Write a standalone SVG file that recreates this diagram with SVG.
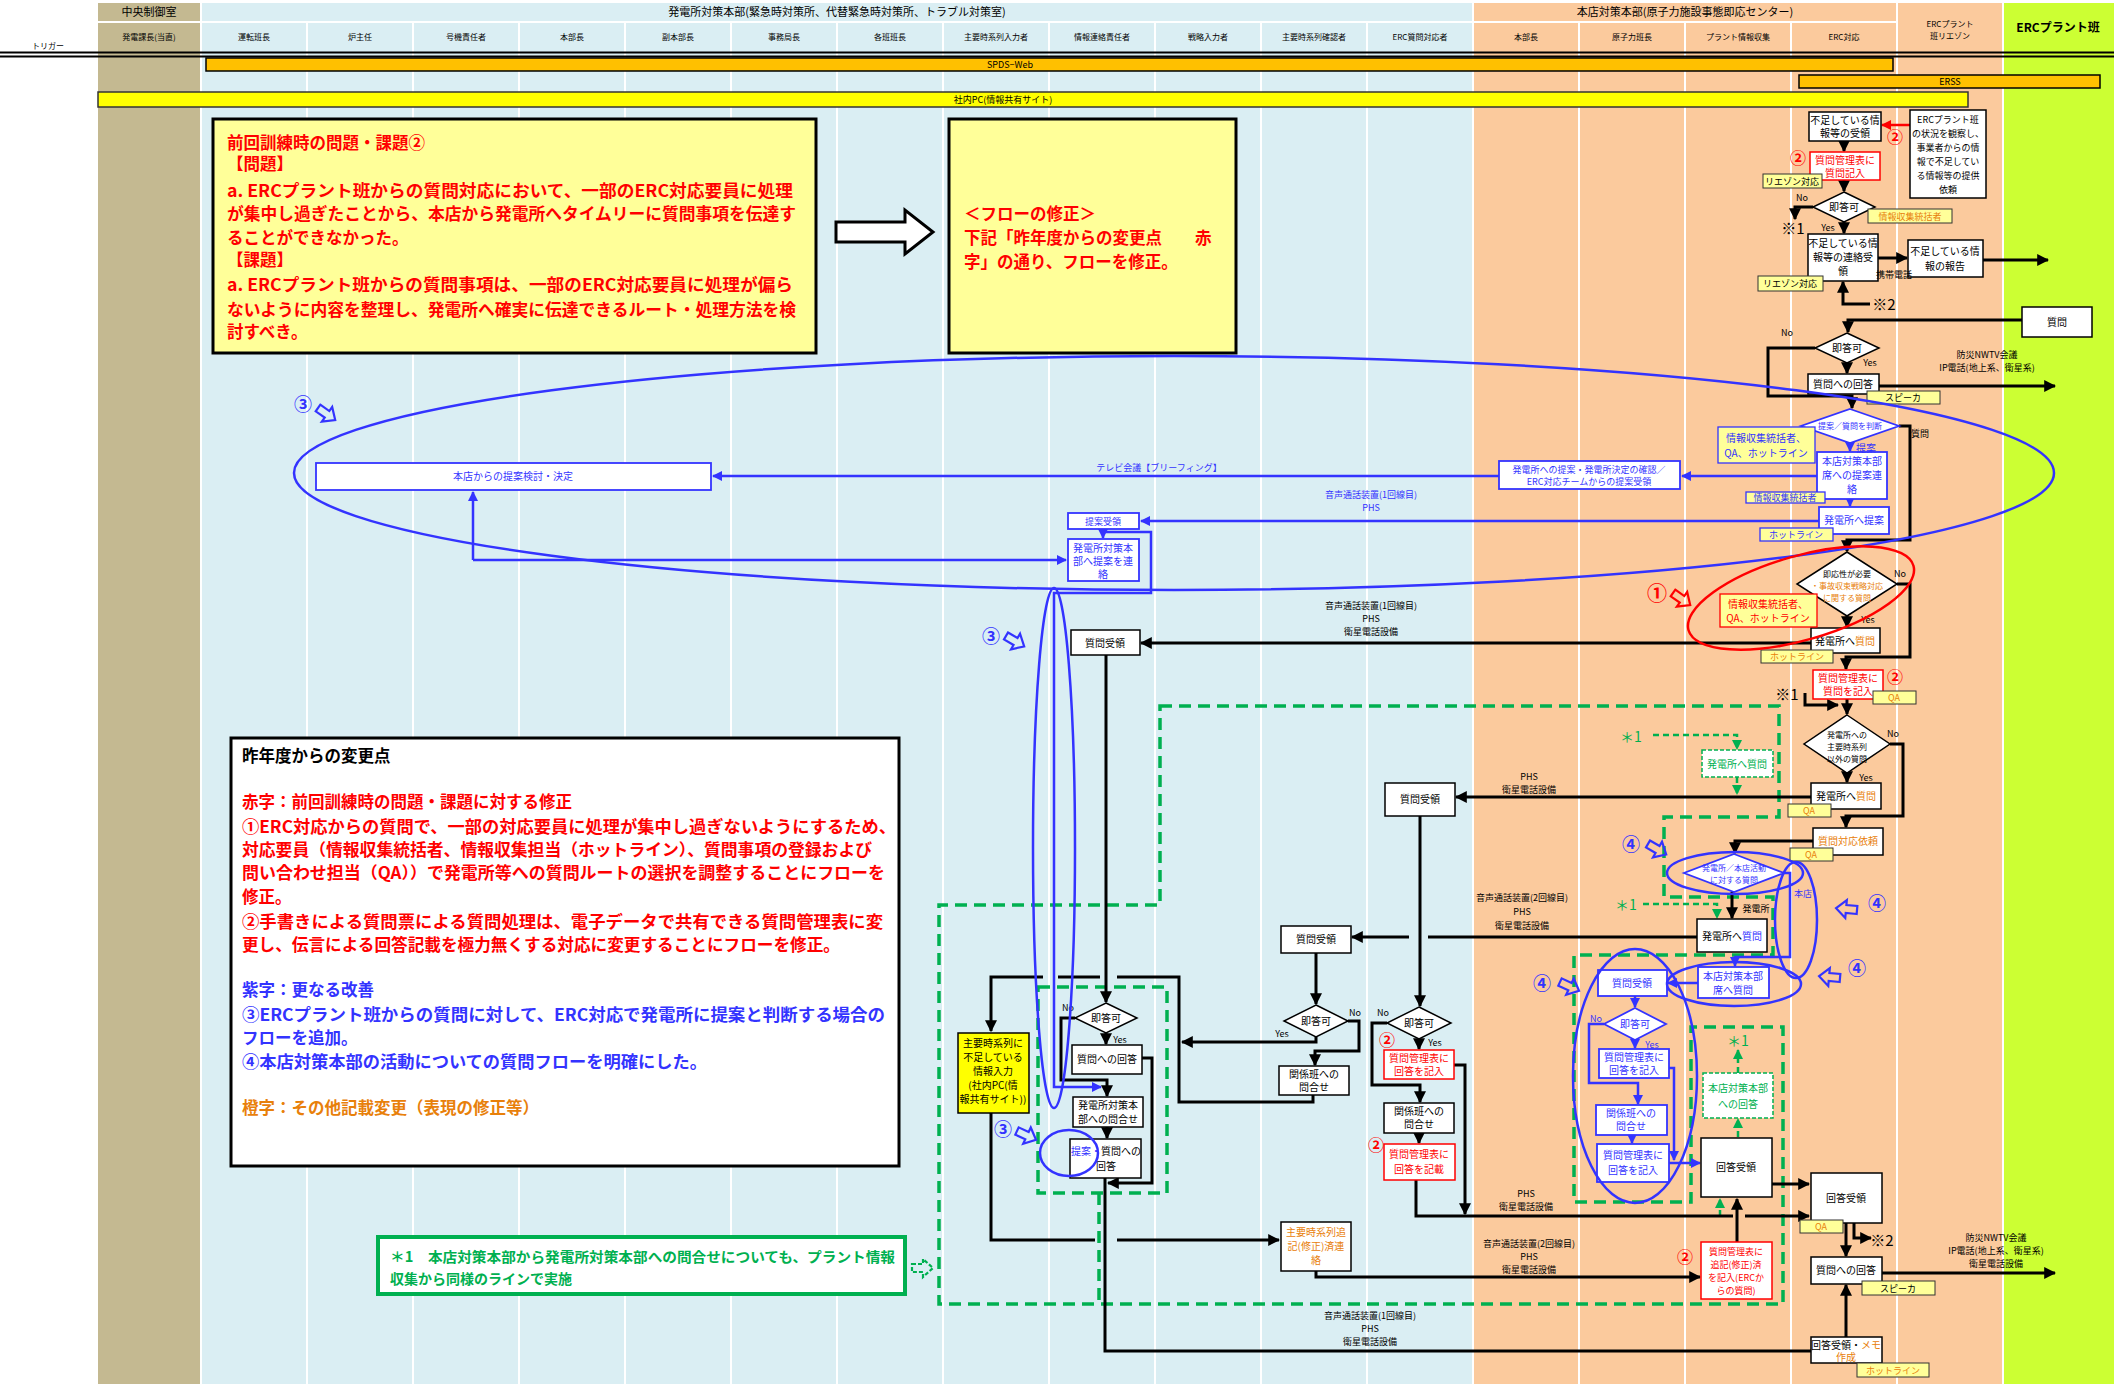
<svg xmlns="http://www.w3.org/2000/svg" width="2125" height="1384" viewBox="0 0 2125 1384">
<defs>
<style>
.t{font-family:"Noto Sans CJK JP","Noto Sans",sans-serif;font-size:10px;text-anchor:middle;fill:#000}
.s8{font-size:8px}.s9{font-size:9px}.s11{font-size:11px}
.lt{text-anchor:start}
.bd{font-weight:bold}
.b{fill:#3333ff}.r{fill:#ff0000}.o{fill:#e8800a}.g{fill:#00b050}
.n{fill:#fff;stroke:#000;stroke-width:1.5}
.nb{fill:#fff;stroke:#3333ff;stroke-width:1.8}
.nr{fill:#fff;stroke:#ff0000;stroke-width:1.5}
.ng{fill:#fff;stroke:#00b050;stroke-width:1.5;stroke-dasharray:4 2}
.lab{fill:#ffff99;stroke:#333;stroke-width:1}
.labb{fill:#ffff99;stroke:#3333ff;stroke-width:1.3}
.labr{fill:#ffff99;stroke:#ff0000;stroke-width:1.3}
.c{fill:none;stroke:#000;stroke-width:3;marker-end:url(#a)}
.c0{fill:none;stroke:#000;stroke-width:3}
.cb{fill:none;stroke:#3333ff;stroke-width:2.5;marker-end:url(#ab)}
.cb0{fill:none;stroke:#3333ff;stroke-width:2.5}
.cr{fill:none;stroke:#ff0000;stroke-width:2.5;marker-end:url(#ar)}
.cg{fill:none;stroke:#00b050;stroke-width:2.5;stroke-dasharray:6 4;marker-end:url(#ag)}
.gd{fill:none;stroke:#00b050;stroke-width:3.5;stroke-dasharray:12 7}
.el{fill:none;stroke:#3333ff;stroke-width:2.5}
.wl{stroke:#fff;stroke-width:2}
.num{font-family:"Noto Sans CJK JP",sans-serif;font-size:18px;font-weight:bold;text-anchor:middle}
.big{font-family:"Noto Sans CJK JP",sans-serif;font-size:16.5px;font-weight:bold}
</style>
<marker id="a" viewBox="0 0 10 10" refX="9" refY="5" markerWidth="4" markerHeight="4" orient="auto"><path d="M0,0L10,5L0,10z" fill="#000"/></marker>
<marker id="ab" viewBox="0 0 10 10" refX="9" refY="5" markerWidth="4" markerHeight="4" orient="auto"><path d="M0,0L10,5L0,10z" fill="#3333ff"/></marker>
<marker id="ar" viewBox="0 0 10 10" refX="9" refY="5" markerWidth="4" markerHeight="4" orient="auto"><path d="M0,0L10,5L0,10z" fill="#ff0000"/></marker>
<marker id="ag" viewBox="0 0 10 10" refX="9" refY="5" markerWidth="4" markerHeight="4" orient="auto"><path d="M0,0L10,5L0,10z" fill="#00b050"/></marker>
<path id="ha" d="M0,-4H11V-9L21,0L11,9V4H0Z" stroke-width="2.2"/>
</defs>

<g id="background">
<rect x="0" y="0" width="2125" height="1384" fill="#fff"/>
<rect x="98" y="3" width="103" height="1381" fill="#c4b991"/>
<rect x="201" y="3" width="1272" height="1381" fill="#daeef3"/>
<rect x="1473" y="3" width="530" height="1381" fill="#fbca9d"/>
<rect x="2003" y="3" width="111" height="1381" fill="#ccff33"/>
<line class="wl" x1="98" y1="22" x2="1897" y2="22"/>
<g class="wl">
<line x1="201" y1="3" x2="201" y2="1384"/><line x1="307" y1="22" x2="307" y2="1384"/><line x1="413" y1="22" x2="413" y2="1384"/><line x1="519" y1="22" x2="519" y2="1384"/><line x1="625" y1="22" x2="625" y2="1384"/><line x1="731" y1="22" x2="731" y2="1384"/><line x1="837" y1="22" x2="837" y2="1384"/><line x1="943" y1="22" x2="943" y2="1384"/><line x1="1049" y1="22" x2="1049" y2="1384"/><line x1="1155" y1="22" x2="1155" y2="1384"/><line x1="1261" y1="22" x2="1261" y2="1384"/><line x1="1367" y1="22" x2="1367" y2="1384"/><line x1="1473" y1="3" x2="1473" y2="1384"/><line x1="1579" y1="22" x2="1579" y2="1384"/><line x1="1685" y1="22" x2="1685" y2="1384"/><line x1="1791" y1="22" x2="1791" y2="1384"/><line x1="1897" y1="3" x2="1897" y2="1384"/><line x1="2003" y1="3" x2="2003" y2="1384"/>
</g>
</g>

<g id="header">
<text class="t s11" x="149" y="16">中央制御室</text>
<text class="t s11" x="837" y="16">発電所対策本部(緊急時対策所、代替緊急時対策所、トラブル対策室)</text>
<text class="t s11" x="1685" y="16">本店対策本部(原子力施設事態即応センター)</text>
<text class="t s8" x="1950" y="27">ERCプラント</text>
<text class="t s8" x="1950" y="39">班リエゾン</text>
<text class="t bd" x="2058" y="32" style="font-size:12px">ERCプラント班</text>
<text class="t s8" x="149" y="40">発電課長(当直)</text>
<g class="t s8">
<text x="254" y="40">運転班長</text><text x="360" y="40">炉主任</text><text x="466" y="40">号機責任者</text><text x="572" y="40">本部長</text><text x="678" y="40">副本部長</text><text x="784" y="40">事務局長</text><text x="890" y="40">各班班長</text><text x="996" y="40">主要時系列入力者</text><text x="1102" y="40">情報連絡責任者</text><text x="1208" y="40">戦略入力者</text><text x="1314" y="40">主要時系列確認者</text><text x="1420" y="40">ERC質問対応者</text><text x="1526" y="40">本部長</text><text x="1632" y="40">原子力班長</text><text x="1738" y="40">プラント情報収集</text><text x="1844" y="40">ERC対応</text>
</g>
<text class="t s8" x="48" y="49">トリガー</text>
<line x1="0" y1="52.5" x2="2114" y2="52.5" stroke="#000" stroke-width="2"/>
<line x1="0" y1="56.5" x2="2114" y2="56.5" stroke="#000" stroke-width="2"/>
</g>

<g id="systems">
<rect x="206" y="58" width="1687" height="13" fill="#ffc000" stroke="#000" stroke-width="1.5"/>
<text class="t s9" x="1010" y="68">SPDS−Web</text>
<rect x="1799" y="75" width="301" height="13" fill="#ffc000" stroke="#000" stroke-width="1.5"/>
<text class="t s9" x="1950" y="85">ERSS</text>
<rect x="98" y="92" width="1870" height="15" fill="#ffff00" stroke="#333" stroke-width="1.5"/>
<text class="t s9" x="1003" y="103">社内PC(情報共有サイト)</text>
</g>

<g id="problem-box">
<rect x="213" y="119" width="603" height="234" fill="#ffff99" stroke="#000" stroke-width="3"/>
<g class="big r">
<text x="227" y="149">前回訓練時の問題・課題②</text>
<text x="227" y="170">【問題】</text>
<text x="227" y="197" textLength="566" lengthAdjust="spacingAndGlyphs">a. ERCプラント班からの質問対応において、一部のERC対応要員に処理</text>
<text x="227" y="220" textLength="569" lengthAdjust="spacingAndGlyphs">が集中し過ぎたことから、本店から発電所へタイムリーに質問事項を伝達す</text>
<text x="227" y="244">ることができなかった。</text>
<text x="227" y="266">【課題】</text>
<text x="227" y="291" textLength="566" lengthAdjust="spacingAndGlyphs">a. ERCプラント班からの質問事項は、一部のERC対応要員に処理が偏ら</text>
<text x="227" y="316" textLength="569" lengthAdjust="spacingAndGlyphs">ないように内容を整理し、発電所へ確実に伝達できるルート・処理方法を検</text>
<text x="227" y="338">討すべき。</text>
</g>
</g>
<path d="M836,222H905V210L933,232L905,254V242H836Z" fill="#fff" stroke="#000" stroke-width="3"/>
<g id="revision-box">
<rect x="949" y="119" width="287" height="234" fill="#ffff99" stroke="#000" stroke-width="3"/>
<g class="big r">
<text x="964" y="220">＜フローの修正＞</text>
<text x="964" y="244">下記「昨年度からの変更点　　赤</text>
<text x="964" y="268">字」の通り、フローを修正。</text>
</g>
</g>

<g id="changes-box">
<rect x="231" y="738" width="668" height="428" fill="#fff" stroke="#000" stroke-width="3"/>
<g class="big">
<text x="242" y="762">昨年度からの変更点</text>
<text class="r" x="242" y="808">赤字：前回訓練時の問題・課題に対する修正</text>
<text class="r" x="242" y="833" textLength="654" lengthAdjust="spacingAndGlyphs">①ERC対応からの質問で、一部の対応要員に処理が集中し過ぎないようにするため、</text>
<text class="r" x="242" y="856" textLength="630" lengthAdjust="spacingAndGlyphs">対応要員（情報収集統括者、情報収集担当（ホットライン）、質問事項の登録および</text>
<text class="r" x="242" y="879" textLength="643" lengthAdjust="spacingAndGlyphs">問い合わせ担当（QA））で発電所等への質問ルートの選択を調整することにフローを</text>
<text class="r" x="242" y="903">修正。</text>
<text class="r" x="242" y="928" textLength="641" lengthAdjust="spacingAndGlyphs">②手書きによる質問票による質問処理は、電子データで共有できる質問管理表に変</text>
<text class="r" x="242" y="951" textLength="598" lengthAdjust="spacingAndGlyphs">更し、伝言による回答記載を極力無くする対応に変更することにフローを修正。</text>
<text class="b" x="242" y="996">紫字：更なる改善</text>
<text class="b" x="242" y="1021" textLength="643" lengthAdjust="spacingAndGlyphs">③ERCプラント班からの質問に対して、ERC対応で発電所に提案と判断する場合の</text>
<text class="b" x="242" y="1044">フローを追加。</text>
<text class="b" x="242" y="1068" textLength="465" lengthAdjust="spacingAndGlyphs">④本店対策本部の活動についての質問フローを明確にした。</text>
<text class="o" x="242" y="1114">橙字：その他記載変更（表現の修正等）</text>
</g>
</g>

<g id="note-box">
<rect x="378" y="1237" width="527" height="57" fill="#fff" stroke="#00b050" stroke-width="4"/>
<text class="g" x="390" y="1262" style="font-family:'Noto Sans CJK JP',sans-serif;font-size:14px;font-weight:bold" textLength="505" lengthAdjust="spacingAndGlyphs">＊1　本店対策本部から発電所対策本部への問合せについても、プラント情報</text>
<text class="g" x="390" y="1284" style="font-family:'Noto Sans CJK JP',sans-serif;font-size:14px;font-weight:bold">収集から同様のラインで実施</text>
<use href="#ha" transform="translate(912,1268)" fill="none" stroke="#00b050" stroke-dasharray="4 2"/>
</g>

<g id="green-dashed">
<path class="gd" d="M1160,706H1779V817H1664V897H1773V955H1574V1202H1691V1027H1783V1304H939V905H1160Z"/>
<rect class="gd" x="1038" y="987" width="129" height="206"/>
<line class="gd" x1="1099" y1="1193" x2="1099" y2="1304"/>
</g>

<g id="connectors">
<!-- top right -->
<path class="cr" d="M1910,125H1882"/>
<path class="c" d="M1844,141V151"/>
<path class="c" d="M1844,180V191"/>
<path class="c" d="M1813,207H1795V219"/>
<path class="c" d="M1844,222V233"/>
<path class="c" d="M1878,258H1907"/>
<path class="c" d="M1983,260H2048"/>
<path class="c" d="M1870,304H1843V282"/>
<path class="c" d="M2022,320H1848V332"/>
<path class="c" d="M1815,348H1768V396H1852V408"/>
<path class="c" d="M1847,363V373"/>
<path class="c" d="M1879,386H2055"/>
<!-- proposal -->
<path class="c" d="M1899,426H1910V540H1847V551"/>
<path class="cb" d="M1850,443V451"/>
<path class="cb" d="M1817,476H1682"/>
<path class="cb" d="M1499,476H713"/>
<path class="cb" d="M1850,499V506"/>
<path class="cb" d="M1819,521H1141"/>
<path class="cb" d="M1103,529V538"/>
<path class="cb" d="M1103,532H1151V593H1054V1087H1101"/>
<path class="cb" d="M473,560H1066"/>
<path class="cb" d="M473,560V492"/>
<!-- question -->
<path class="c" d="M1897,584H1910V657H1846V669"/>
<path class="c" d="M1847,616V627"/>
<path class="c" d="M1811,643H1141"/>
<path class="c" d="M1847,699V714"/>
<path class="c" d="M1805,693V705H1838"/>
<path class="c" d="M1890,744H1903V816H1846V827"/>
<path class="c" d="M1847,773V782"/>
<path class="c" d="M1811,797H1456"/>
<path class="c" d="M1813,841H1735V853"/>
<path class="c" d="M1732,892V918"/>
<path class="cb" d="M1784,873H1790V957H1735V966"/>
<path class="cg" d="M1653,735H1737V749"/>
<path class="cg" d="M1737,777V794"/>
<path class="cg" d="M1643,904H1717V918"/>
<path class="c0" d="M1697,937H1428"/>
<path class="c" d="M1409,937H1352"/>
<path class="cb" d="M1698,983H1668"/>
<path class="cb" d="M1635,996V1007"/>
<path class="cb" d="M1604,1024H1589V1083H1638V1104"/>
<path class="cb" d="M1635,1040V1048"/>
<path class="cb" d="M1669,1068H1674V1160"/>
<path class="cb" d="M1632,1135V1143"/>
<path class="cb" d="M1669,1163H1700"/>
<path class="cg" d="M1738,1073V1050"/>
<path class="cg" d="M1738,1137V1119"/>
<path class="cg" d="M1720,1216V1199"/>
<path class="c" d="M1772,1184H1809"/>
<path class="c" d="M1846,1223V1256"/>
<path class="c" d="M1854,1223V1238H1871"/>
<path class="c" d="M1882,1273H2055"/>
<path class="c" d="M1846,1337V1285"/>
<path class="c0" d="M1105,1178V1351H1811"/>
<!-- middle -->
<path class="c" d="M1420,816V1006"/>
<path class="c" d="M1316,953V1004"/>
<path class="c" d="M1348,1021H1359V1051H1315V1065"/>
<path class="c" d="M1316,1037V1042H1182"/>
<path class="c0" d="M1313,1095V1102H1179V977H1117"/>
<path class="c0" d="M1100,977H1058"/>
<path class="c" d="M1043,977H991V1031"/>
<path class="c" d="M1387,1023H1372V1085H1420V1102"/>
<path class="c" d="M1419,1039V1049"/>
<path class="c" d="M1454,1065H1465V1214"/>
<path class="c" d="M1419,1133V1143"/>
<path class="c0" d="M1416,1180V1216H1733"/>
<path class="c" d="M1745,1216H1809"/>
<path class="c" d="M1316,1271V1277H1700"/>
<path class="c" d="M1737,1242V1199"/>
<!-- left -->
<path class="c" d="M1106,655V1002"/>
<path class="c" d="M1075,1018H1061V1080H1107V1096"/>
<path class="c" d="M1106,1033V1044"/>
<path class="c" d="M1142,1058H1152V1183H1108"/>
<path class="c" d="M1107,1127V1138"/>
<path class="c0" d="M991,1113V1240H1095"/>
<path class="c" d="M1117,1240H1279"/>
</g>

<g id="n-fusoku-juryo"><rect class="n" x="1809" y="112" width="72" height="29"/><text class="t" x="1845" y="124">不足している情</text><text class="t" x="1845" y="137">報等の受領</text></g>
<g id="n-kanri-kinyu1"><rect class="nr" x="1810" y="152" width="70" height="28"/><text class="t r" x="1845" y="164">質問管理表に</text><text class="t r" x="1845" y="177">質問記入</text></g>
<g id="n-erc-request"><rect class="n" x="1910" y="110" width="76" height="88"/>
<g class="t s9"><text x="1948" y="123">ERCプラント班</text><text x="1948" y="137">の状況を観察し、</text><text x="1948" y="151">事業者からの情</text><text x="1948" y="165">報で不足してい</text><text x="1948" y="179">る情報等の提供</text><text x="1948" y="193">依頼</text></g></g>
<g id="lab1"><rect class="lab" x="1763" y="174" width="59" height="14"/><text class="t s9" x="1792" y="185">リエゾン対応</text></g>
<g id="d1"><polygon class="n" points="1844,192 1875,207 1844,222 1813,207"/><text class="t" x="1844" y="211">即答可</text></g>
<g id="lab2"><rect class="lab" x="1868" y="209" width="84" height="14"/><text class="t s9 o" x="1910" y="220">情報収集統括者</text></g>
<g id="n-renraku"><rect class="n" x="1808" y="234" width="70" height="47"/><text class="t" x="1843" y="247">不足している情</text><text class="t" x="1843" y="261">報等の連絡受</text><text class="t" x="1843" y="275">領</text></g>
<g id="n-houkoku"><rect class="n" x="1908" y="240" width="75" height="37"/><text class="t" x="1945" y="255">不足している情</text><text class="t" x="1945" y="270">報の報告</text></g>
<g id="lab3"><rect class="lab" x="1758" y="276" width="65" height="15"/><text class="t s9" x="1790" y="287">リエゾン対応</text></g>
<g id="n-shitsumon"><rect class="n" x="2022" y="307" width="70" height="30"/><text class="t" x="2057" y="326">質問</text></g>
<g id="d2"><polygon class="n" points="1847,333 1879,348 1847,363 1815,348"/><text class="t" x="1847" y="352">即答可</text></g>
<g id="n-kaitou1"><rect class="n" x="1808" y="374" width="71" height="20"/><text class="t" x="1843" y="388">質問への回答</text></g>
<g id="lab4"><rect class="lab" x="1867" y="391" width="73" height="13"/><text class="t s9" x="1903" y="401">スピーカ</text></g>

<g id="d3"><polygon class="nb" points="1850,409 1899,426 1850,443 1801,426"/><text class="t b s8" x="1850" y="429">提案／質問を判断</text></g>
<g id="n-teian-renraku"><rect class="nb" x="1817" y="452" width="70" height="47"/><text class="t b" x="1852" y="465">本店対策本部</text><text class="t b" x="1852" y="479">席への提案連</text><text class="t b" x="1852" y="493">絡</text></g>
<g id="lab5"><rect class="labb" x="1718" y="427" width="97" height="36"/><text class="t b" x="1766" y="442">情報収集統括者、</text><text class="t b" x="1766" y="457">QA、ホットライン</text></g>
<g id="n-teian-kakunin"><rect class="nb" x="1499" y="461" width="181" height="28"/><text class="t b s9" x="1589" y="473">発電所への提案・発電所決定の確認／</text><text class="t b s9" x="1589" y="485">ERC対応チームからの提案受領</text></g>
<g id="lab6"><rect class="labb" x="1746" y="492" width="79" height="11"/><text class="t b s9" x="1785" y="501">情報収集統括者</text></g>
<g id="n-teian-hatsu"><rect class="nb" x="1819" y="507" width="70" height="27"/><text class="t b" x="1854" y="524">発電所へ提案</text></g>
<g id="lab7"><rect class="labb" x="1760" y="528" width="73" height="13"/><text class="t b s9" x="1796" y="538">ホットライン</text></g>
<g id="n-teian-kentou"><rect class="nb" x="316" y="463" width="395" height="27"/><text class="t b" x="513" y="480">本店からの提案検討・決定</text></g>
<g id="n-teian-juryo"><rect class="nb" x="1068" y="513" width="71" height="16"/><text class="t b s9" x="1103" y="525">提案受領</text></g>
<g id="n-teian-hq"><rect class="nb" x="1068" y="539" width="71" height="42"/><text class="t b" x="1103" y="552">発電所対策本</text><text class="t b" x="1103" y="565">部へ提案を連</text><text class="t b" x="1103" y="578">絡</text></g>

<g id="d4"><polygon class="n" points="1847,552 1897,584 1847,616 1797,584"/><text class="t s8" x="1847" y="577">即応性が必要</text><text class="t s8 o" x="1847" y="589">・事故収束戦略対応</text><text class="t s8 o" x="1847" y="601">に関する質問</text></g>
<g id="n-q-hatsu1"><rect class="n" x="1811" y="628" width="69" height="25"/><text class="t" x="1845" y="645">発電所へ<tspan class="o">質問</tspan></text></g>
<g id="lab8"><rect class="lab" x="1761" y="650" width="72" height="13"/><text class="t s9 o" x="1797" y="660">ホットライン</text></g>
<g id="lab9"><rect class="labr" x="1720" y="594" width="97" height="33"/><text class="t r" x="1768" y="608">情報収集統括者、</text><text class="t r" x="1768" y="622">QA、ホットライン</text></g>
<g id="n-kanri-kinyu2"><rect class="nr" x="1813" y="670" width="70" height="29"/><text class="t r" x="1848" y="682">質問管理表に</text><text class="t r" x="1848" y="695">質問を記入</text></g>
<g id="lab10"><rect class="lab" x="1873" y="691" width="43" height="13"/><text class="t s9 o" x="1894" y="701">QA</text></g>
<g id="d5"><polygon class="n" points="1847,715 1890,744 1847,773 1804,744"/><text class="t s8" x="1847" y="738">発電所への</text><text class="t s8" x="1847" y="750">主要時系列</text><text class="t s8" x="1847" y="762">以外の質問</text></g>
<g id="n-q-hatsu2"><rect class="n" x="1811" y="783" width="70" height="26"/><text class="t" x="1846" y="800">発電所へ<tspan class="o">質問</tspan></text></g>
<g id="lab11"><rect class="lab" x="1788" y="804" width="43" height="13"/><text class="t s9 o" x="1809" y="814">QA</text></g>
<g id="n-irai"><rect class="n" x="1813" y="828" width="70" height="27"/><text class="t o" x="1848" y="845">質問対応依頼</text></g>
<g id="lab12"><rect class="lab" x="1790" y="848" width="43" height="13"/><text class="t s9 o" x="1811" y="858">QA</text></g>
<g id="d6"><polygon class="nb" points="1734,854 1784,873 1734,892 1684,873"/><text class="t b s8" x="1734" y="871">発電所／本店活動</text><text class="t b s8" x="1734" y="883">に対する質問</text></g>
<g id="n-q-green"><rect class="ng" x="1702" y="750" width="71" height="27"/><text class="t g" x="1737" y="768">発電所へ質問</text></g>
<g id="n-q-hatsu3"><rect class="n" x="1697" y="919" width="70" height="33"/><text class="t" x="1732" y="940">発電所へ<tspan class="b">質問</tspan></text></g>
<g id="n-q-honten"><rect class="nb" x="1698" y="967" width="71" height="31"/><text class="t b" x="1733" y="980">本店対策本部</text><text class="t b" x="1733" y="994">席へ質問</text></g>
<g id="n-juryo-b"><rect class="nb" x="1598" y="970" width="69" height="26"/><text class="t b" x="1632" y="987">質問受領</text></g>
<g id="d7"><polygon class="nb" points="1635,1008 1666,1024 1635,1040 1604,1024"/><text class="t b" x="1635" y="1028">即答可</text></g>
<g id="n-kinyu-b1"><rect class="nb" x="1599" y="1049" width="70" height="29"/><text class="t b" x="1634" y="1061">質問管理表に</text><text class="t b" x="1634" y="1074">回答を記入</text></g>
<g id="n-kankei-b"><rect class="nb" x="1596" y="1105" width="71" height="30"/><text class="t b" x="1631" y="1117">関係班への</text><text class="t b" x="1631" y="1130">問合せ</text></g>
<g id="n-kinyu-b2"><rect class="nb" x="1597" y="1144" width="72" height="38"/><text class="t b" x="1633" y="1159">質問管理表に</text><text class="t b" x="1633" y="1174">回答を記入</text></g>
<g id="n-honten-kaitou"><rect class="ng" x="1703" y="1073" width="70" height="45"/><text class="t g" x="1738" y="1092">本店対策本部</text><text class="t g" x="1738" y="1108">への回答</text></g>
<g id="n-kaitou-juryo1"><rect class="n" x="1701" y="1138" width="71" height="59"/><text class="t" x="1736" y="1171">回答受領</text></g>
<g id="n-kaitou-juryo2"><rect class="n" x="1811" y="1173" width="71" height="50"/><text class="t" x="1846" y="1202">回答受領</text></g>
<g id="lab13"><rect class="lab" x="1800" y="1220" width="43" height="13"/><text class="t s9 o" x="1821" y="1230">QA</text></g>
<g id="n-kaitou2"><rect class="n" x="1811" y="1257" width="71" height="27"/><text class="t" x="1846" y="1274">質問への回答</text></g>
<g id="lab14"><rect class="lab" x="1862" y="1281" width="73" height="14"/><text class="t s9" x="1898" y="1292">スピーカ</text></g>
<g id="n-memo"><rect class="n" x="1811" y="1337" width="71" height="26"/><text class="t" x="1846" y="1349">回答受領・<tspan class="o">メモ</tspan></text><text class="t o" x="1846" y="1361">作成</text></g>
<g id="lab15"><rect class="lab" x="1857" y="1363" width="72" height="14"/><text class="t s9 o" x="1893" y="1374">ホットライン</text></g>
<g id="n-tsuiki"><rect class="nr" x="1701" y="1242" width="71" height="57"/><text class="t r s9" x="1736" y="1255">質問管理表に</text><text class="t r s9" x="1736" y="1268">追記(修正)済</text><text class="t r s9" x="1736" y="1281">を記入(ERCか</text><text class="t r s9" x="1736" y="1294">らの質問)</text></g>

<g id="n-juryo-m1"><rect class="n" x="1385" y="783" width="70" height="33"/><text class="t" x="1420" y="803">質問受領</text></g>
<g id="n-juryo-m2"><rect class="n" x="1281" y="926" width="70" height="27"/><text class="t" x="1316" y="943">質問受領</text></g>
<g id="d8"><polygon class="n" points="1316,1005 1348,1021 1316,1037 1284,1021"/><text class="t" x="1316" y="1025">即答可</text></g>
<g id="n-kankei-m1"><rect class="n" x="1279" y="1066" width="70" height="29"/><text class="t" x="1314" y="1078">関係班への</text><text class="t" x="1314" y="1091">問合せ</text></g>
<g id="d9"><polygon class="n" points="1419,1007 1451,1023 1419,1039 1387,1023"/><text class="t" x="1419" y="1027">即答可</text></g>
<g id="n-kinyu-r1"><rect class="nr" x="1384" y="1050" width="70" height="29"/><text class="t r" x="1419" y="1062">質問管理表に</text><text class="t r" x="1419" y="1075">回答を記入</text></g>
<g id="n-kankei-m2"><rect class="n" x="1384" y="1103" width="70" height="30"/><text class="t" x="1419" y="1115">関係班への</text><text class="t" x="1419" y="1128">問合せ</text></g>
<g id="n-kisai-r"><rect class="nr" x="1384" y="1144" width="71" height="36"/><text class="t r" x="1419" y="1158">質問管理表に</text><text class="t r" x="1419" y="1173">回答を記載</text></g>
<g id="n-tsuiki-renraku"><rect class="n" x="1281" y="1222" width="70" height="49"/><text class="t o" x="1316" y="1236">主要時系列追</text><text class="t o" x="1316" y="1250">記(修正)済連</text><text class="t o" x="1316" y="1264">絡</text></g>

<g id="n-juryo-l"><rect class="n" x="1071" y="630" width="69" height="25"/><text class="t" x="1105" y="647">質問受領</text></g>
<g id="d10"><polygon class="n" points="1106,1003 1137,1018 1106,1033 1075,1018"/><text class="t" x="1106" y="1022">即答可</text></g>
<g id="n-kaitou-l"><rect class="n" x="1072" y="1045" width="70" height="29"/><text class="t" x="1107" y="1063">質問への回答</text></g>
<g id="n-toiawase-l"><rect class="n" x="1073" y="1097" width="70" height="30"/><text class="t" x="1108" y="1109">発電所対策本</text><text class="t" x="1108" y="1123">部への問合せ</text></g>
<g id="n-teian-kaitou"><rect class="n" x="1070" y="1139" width="71" height="39"/><text class="t" x="1106" y="1155"><tspan class="b">提案・</tspan>質問への</text><text class="t" x="1106" y="1170">回答</text></g>
<g id="n-jikeiretsu"><rect x="958" y="1033" width="71" height="80" fill="#ffff00" stroke="#000" stroke-width="1.5"/><text class="t" x="993" y="1047">主要時系列に</text><text class="t" x="993" y="1061">不足している</text><text class="t" x="993" y="1075">情報入力</text><text class="t" x="993" y="1089">(社内PC(情</text><text class="t" x="993" y="1103">報共有サイト))</text></g>

<g id="labels">
<g class="t s9">
<text x="1802" y="201">No</text><text x="1828" y="231">Yes</text><text x="1894" y="278">携帯電話</text>
<text x="1787" y="336">No</text><text x="1870" y="366">Yes</text>
<text x="1987" y="358">防災NWTV会議</text><text x="1987" y="371">IP電話(地上系、衛星系)</text>
<text x="1920" y="437">質問</text><text class="b" x="1866" y="452" style="font-size:10px">提案</text>
<text class="b" x="1159" y="471">テレビ会議【ブリーフィング】</text>
<text class="b" x="1371" y="498">音声通話装置(1回線目)</text><text class="b" x="1371" y="511">PHS</text>
<text x="1900" y="577">No</text><text x="1868" y="623">Yes</text>
<text x="1371" y="609">音声通話装置(1回線目)</text><text x="1371" y="622">PHS</text><text x="1371" y="635">衛星電話設備</text>
<text x="1893" y="737">No</text><text x="1866" y="781">Yes</text>
<text x="1529" y="780">PHS</text><text x="1529" y="793">衛星電話設備</text>
<text x="1756" y="912">発電所</text><text class="b" x="1803" y="897">本店</text>
<text x="1522" y="901">音声通話装置(2回線目)</text><text x="1522" y="915">PHS</text><text x="1522" y="929">衛星電話設備</text>
<text class="b" x="1596" y="1022">No</text><text class="b" x="1652" y="1048">Yes</text>
<text x="1355" y="1016">No</text><text x="1282" y="1037">Yes</text>
<text x="1383" y="1016">No</text><text x="1435" y="1046">Yes</text>
<text x="1068" y="1011">No</text><text x="1120" y="1043">Yes</text>
<text x="1526" y="1197">PHS</text><text x="1526" y="1210">衛星電話設備</text>
<text x="1529" y="1247">音声通話装置(2回線目)</text><text x="1529" y="1260">PHS</text><text x="1529" y="1273">衛星電話設備</text>
<text x="1996" y="1241">防災NWTV会議</text><text x="1996" y="1254">IP電話(地上系、衛星系)</text><text x="1996" y="1267">衛星電話設備</text>
<text x="1370" y="1319">音声通話装置(1回線目)</text><text x="1370" y="1332">PHS</text><text x="1370" y="1345">衛星電話設備</text>
</g>
<g class="t" style="font-size:15px">
<text x="1793" y="234">※1</text><text x="1884" y="310">※2</text><text x="1787" y="700">※1</text><text x="1882" y="1246">※2</text>
</g>
<g class="t g" style="font-size:14px">
<text x="1631" y="742">＊1</text><text x="1626" y="910">＊1</text><text x="1738" y="1046">＊1</text>
</g>
<g class="num r" style="font-size:16px">
<text x="1895" y="143">②</text><text x="1798" y="164">②</text><text x="1895" y="683">②</text><text x="1387" y="1046">②</text><text x="1376" y="1151">②</text><text x="1685" y="1263">②</text>
</g>
<text class="num r" x="1657" y="601" style="font-size:20px">①</text>
<use href="#ha" transform="translate(1673,593) rotate(35)" fill="none" stroke="#ff0000"/>
<g class="num b">
<text x="303" y="411">③</text><text x="991" y="643">③</text><text x="1003" y="1136">③</text>
<text x="1631" y="851">④</text><text x="1877" y="910">④</text><text x="1857" y="975">④</text><text x="1542" y="990">④</text>
</g>
<g fill="none" stroke="#3333ff">
<use href="#ha" transform="translate(318,408) rotate(35)"/>
<use href="#ha" transform="translate(1006,636) rotate(30)"/>
<use href="#ha" transform="translate(1017,1131) rotate(25)"/>
<use href="#ha" transform="translate(1648,844) rotate(30)"/>
<use href="#ha" transform="translate(1857,910) rotate(185)"/>
<use href="#ha" transform="translate(1840,978) rotate(185)"/>
<use href="#ha" transform="translate(1560,982) rotate(25)"/>
</g>
</g>

<g id="highlights">
<ellipse class="el" cx="1174" cy="473" rx="880" ry="117"/>
<ellipse class="el" cx="1054" cy="848" rx="21" ry="260"/>
<ellipse class="el" cx="1069" cy="1153" rx="29" ry="23"/>
<ellipse class="el" cx="1735" cy="873" rx="68" ry="21"/>
<ellipse class="el" cx="1796" cy="920" rx="21" ry="58"/>
<ellipse class="el" cx="1734" cy="984" rx="67" ry="22"/>
<ellipse class="el" cx="1635" cy="1076" rx="62" ry="127"/>
<ellipse cx="1801" cy="598" rx="117" ry="42" transform="rotate(-16 1801 598)" fill="none" stroke="#ff0000" stroke-width="2.5"/>
</g>
</svg>
